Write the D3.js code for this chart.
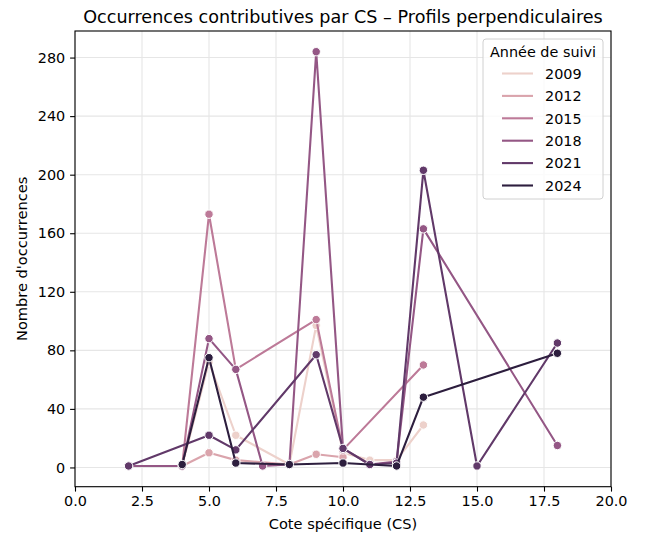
<!DOCTYPE html>
<html>
<head>
<meta charset="utf-8">
<script src="https://cdn.jsdelivr.net/npm/d3@7"></script>
<style>
  body { margin: 0; background: #fff; }
  text { font-family: "DejaVu Sans", sans-serif; fill: #000; }
</style>
</head>
<body>
<svg id="chart"></svg>
<script>
// values
const years = [2009, 2012, 2015, 2018, 2021, 2024];
const cs2009 = [4, 5, 6, 8, 9, 10, 11, 12, 13];
const occ2009 = [1, 72, 22, 2, 97, 10, 5, 5, 29];
const cs2012 = [4, 5, 6, 8, 9, 10];
const occ2012 = [1, 10, 5, 2, 9, 7];
const cs2015 = [4, 5, 6, 9, 10, 13];
const occ2015 = [1, 173, 67, 101, 12, 70];
const cs2018 = [2, 4, 5, 6, 7, 8, 9, 10, 11, 12, 13, 18];
const occ2018 = [1, 1, 88, 67, 1, 2, 284, 13, 2, 4, 163, 15];
const cs2021 = [2, 5, 6, 9, 10, 11, 12, 13, 15, 18];
const occ2021 = [1, 22, 12, 77, 13, 2, 3, 203, 1, 85];
const cs2024 = [4, 5, 6, 8, 10, 12, 13, 18];
const occ2024 = [2, 75, 3, 2, 3, 1, 48, 78];
const colors = ["#edd1cb", "#daa4ac", "#bd7a98", "#945785", "#613969", "#2d1e3e"];
const xTicks = [0, 2.5, 5, 7.5, 10, 12.5, 15, 17.5, 20];
const yTicks = [0, 40, 80, 120, 160, 200, 240, 280];

const csLists = [cs2009, cs2012, cs2015, cs2018, cs2021, cs2024];
const occLists = [occ2009, occ2012, occ2015, occ2018, occ2021, occ2024];
const series = years.map((yr, i) => ({
  year: yr,
  color: colors[i],
  points: csLists[i].map((c, j) => ({ cs: c, n: occLists[i][j] }))
}));

const W = 649, H = 540;
const pLeft = 75, pRight = 611, pTop = 31, pBottom = 486.7;
const fs = "14.4px";

const svg = d3.select("#chart").attr("width", W).attr("height", H);

const x = d3.scaleLinear().domain([0, 20]).range([pLeft, pRight]);
// matplotlib style 5% margins around the data
const allN = occLists.flat();
const [nMin, nMax] = d3.extent(allN);
const pad = (nMax - nMin) * 0.05;
const y = d3.scaleLinear().domain([nMin - pad, nMax + pad]).range([pBottom, pTop]);

// grid
const grid = svg.append("g");
grid.selectAll(".gx").data(xTicks).enter().append("line")
    .attr("x1", d => x(d)).attr("x2", d => x(d))
    .attr("y1", pTop).attr("y2", pBottom)
    .attr("stroke", "#e6e6e6").attr("stroke-width", 1.1);
grid.selectAll(".gy").data(yTicks).enter().append("line")
    .attr("x1", pLeft).attr("x2", pRight)
    .attr("y1", d => y(d)).attr("y2", d => y(d))
    .attr("stroke", "#e6e6e6").attr("stroke-width", 1.1);

// axes
const xAxis = d3.axisBottom(x).tickValues(xTicks).tickFormat(d3.format(".1f"))
    .tickSize(4.9).tickPadding(4.6);
const yAxis = d3.axisLeft(y).tickValues(yTicks).tickFormat(d3.format("d"))
    .tickSize(4.9).tickPadding(4.9);

const gx = svg.append("g").attr("transform", "translate(0," + pBottom + ")").call(xAxis);
const gy = svg.append("g").attr("transform", "translate(" + pLeft + ",0)").call(yAxis);
[gx, gy].forEach(g => {
  g.select(".domain").remove();
  g.selectAll(".tick line").attr("stroke", "#000").attr("stroke-width", 1.1);
  g.selectAll(".tick text").attr("font-size", fs)
      .attr("font-family", "DejaVu Sans").attr("fill", "#000");
});

// lines and markers
const line = d3.line().x(d => x(d.cs)).y(d => y(d.n));
svg.append("clipPath").attr("id", "plotclip")
    .append("rect").attr("x", pLeft).attr("y", pTop)
    .attr("width", pRight - pLeft).attr("height", pBottom - pTop);

const plot = svg.append("g").attr("clip-path", "url(#plotclip)");
series.forEach(s => {
  const g = plot.append("g");
  g.append("path").datum(s.points)
      .attr("d", line)
      .attr("fill", "none")
      .attr("stroke", s.color)
      .attr("stroke-width", 2.1)
      .attr("stroke-linejoin", "round");
  g.selectAll("circle").data(s.points).enter().append("circle")
      .attr("cx", d => x(d.cs))
      .attr("cy", d => y(d.n))
      .attr("r", 4.2)
      .attr("fill", s.color)
      .attr("stroke", "#fff")
      .attr("stroke-width", 1);
});

// frame
svg.append("rect").attr("x", pLeft).attr("y", pTop)
    .attr("width", pRight - pLeft).attr("height", pBottom - pTop)
    .attr("fill", "none").attr("stroke", "#000").attr("stroke-width", 1.1);

// titles
svg.append("text").attr("x", (pLeft + pRight) / 2).attr("y", 23)
    .attr("text-anchor", "middle").attr("font-size", "17.6px")
    .text("Occurrences contributives par CS – Profils perpendiculaires");
svg.append("text").attr("x", (pLeft + pRight) / 2).attr("y", 529)
    .attr("text-anchor", "middle").attr("font-size", "14.6px")
    .text("Cote spécifique (CS)");
svg.append("text")
    .attr("transform", "translate(27," + ((pTop + pBottom) / 2) + ") rotate(-90)")
    .attr("text-anchor", "middle").attr("font-size", "14.6px")
    .text("Nombre d'occurrences");

// legend
const lg = svg.append("g").attr("transform", "translate(483,39)");
lg.append("rect").attr("width", 120).attr("height", 160)
    .attr("rx", 3).attr("fill", "#fff").attr("fill-opacity", 0.8)
    .attr("stroke", "#d0d0d0").attr("stroke-width", 1);
lg.append("text").attr("x", 60).attr("y", 18).attr("text-anchor", "middle")
    .attr("font-size", fs).text("Année de suivi");
series.forEach((s, i) => {
  const yy = 34.5 + i * 22.4;
  lg.append("line").attr("x1", 19).attr("x2", 50).attr("y1", yy).attr("y2", yy)
      .attr("stroke", s.color).attr("stroke-width", 2.1);
  lg.append("text").attr("x", 62).attr("y", yy + 5.2)
      .attr("font-size", fs).text(s.year);
});
</script>
</body>
</html>
